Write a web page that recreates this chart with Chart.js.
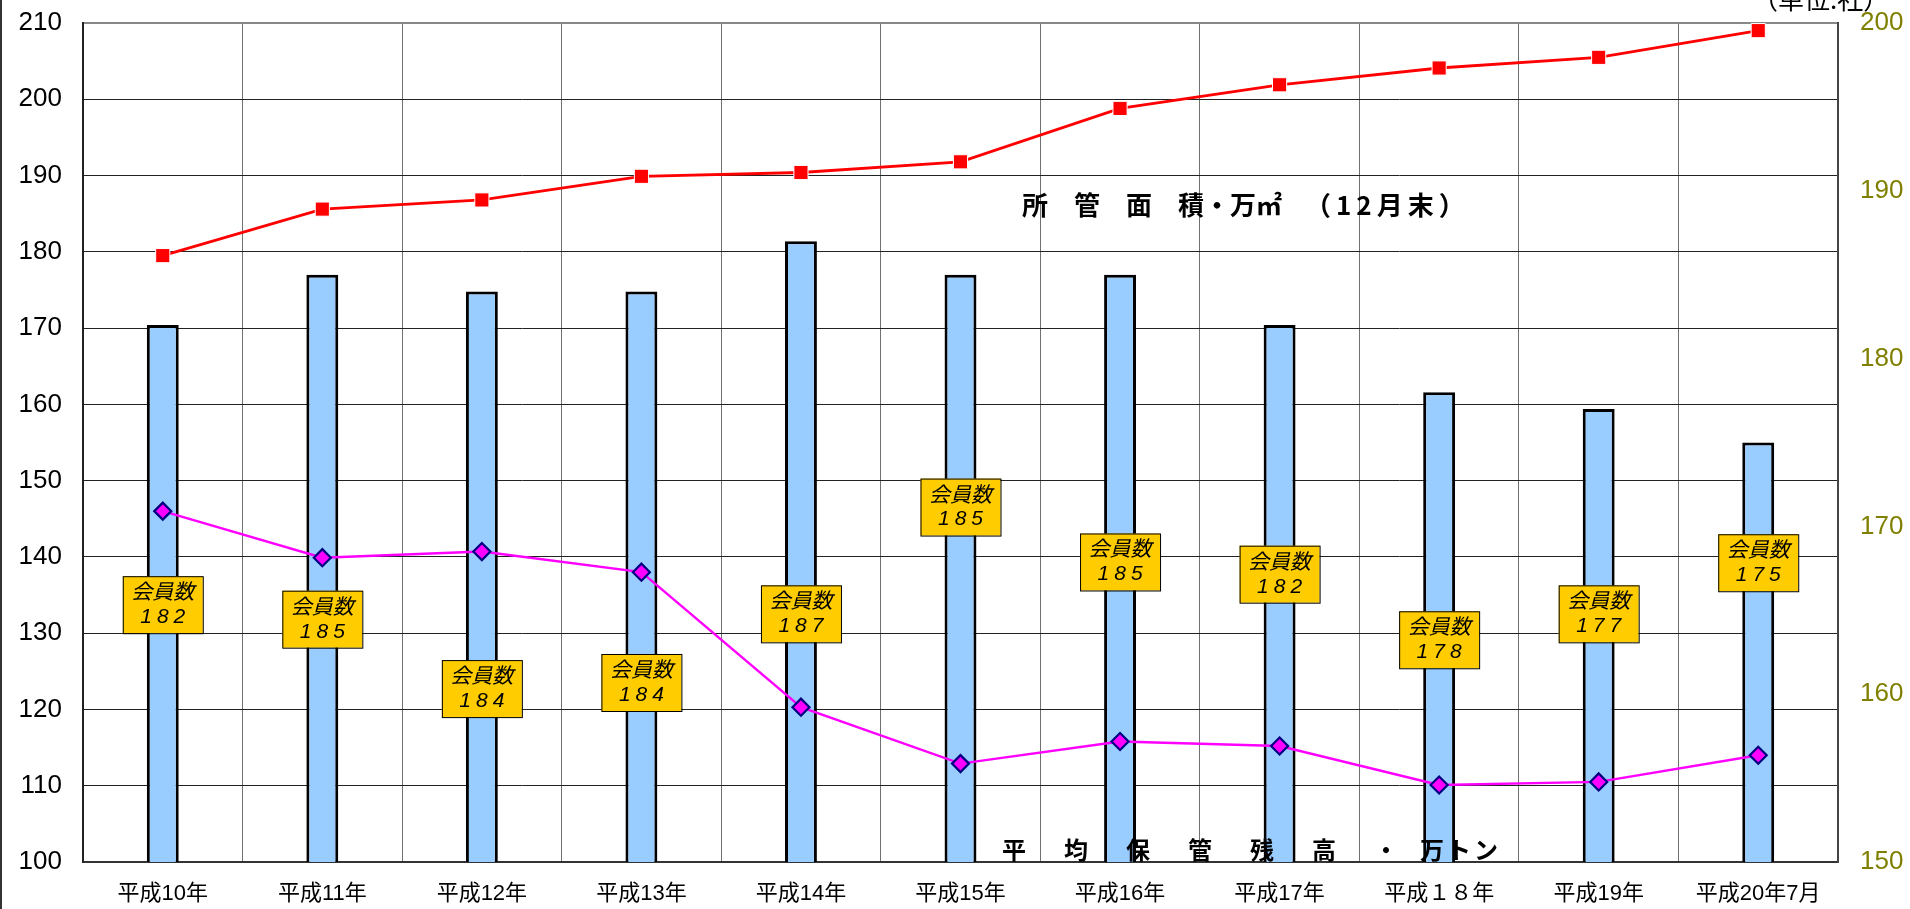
<!DOCTYPE html>
<html>
<head>
<meta charset="utf-8">
<script src="https://cdn.jsdelivr.net/npm/chart.js@4.4.1/dist/chart.umd.min.js"></script>
<style>
  body { margin: 0; background: #fff; }
  #wrap { width: 1910px; height: 909px; position: relative; }
</style>
</head>
<body>
<div id="wrap"><canvas id="myChart"></canvas></div>
<script>
// 年ごとのデータ
const years = ['平成10年', '平成11年', '平成12年', '平成13年', '平成14年', '平成15年',
               '平成16年', '平成17年', '平成１８年', '平成19年', '平成20年7月'];
// 会員数（社）- 右軸
const members = [182, 185, 184, 184, 187, 185, 185, 182, 178, 177, 175];
// 所管面積・万㎡（12月末）- 左軸
const area = [179.5, 185.6, 186.8, 189.9, 190.4, 191.8, 198.8, 201.9, 204.1, 205.5, 209.0];
// 平均保管残高・万トン - 左軸
const stock = [146.0, 139.9, 140.7, 138.0, 120.3, 112.9, 115.8, 115.2, 110.1, 110.5, 114.0];
// ラベル枠の位置（左軸の値）
const labelY = [133.8, 131.9, 122.8, 123.6, 132.6, 146.6, 139.4, 137.8, 129.2, 132.6, 139.3];

const FONT = '"Liberation Sans", "Noto Sans CJK JP", sans-serif';
const JP = '"Noto Sans CJK JP", "Liberation Sans", sans-serif';

// 注釈（会員数の枠・テキスト）
const notes = {
    id: 'notes',
    afterDatasetsDraw(chart) {
        const ctx = chart.ctx;
        const xs = chart.scales.x, ys = chart.scales.y;
        ctx.save();
        members.forEach((m, i) => {
            const x = xs.getPixelForValue(i);
            const y = ys.getPixelForValue(labelY[i]);
            ctx.fillStyle = '#FFCC00';
            ctx.fillRect(x - 40, y - 28, 80, 57);
            ctx.strokeStyle = '#000';
            ctx.lineWidth = 1;
            ctx.strokeRect(x - 40 + 0.5, y - 28 + 0.5, 80, 57);
            ctx.fillStyle = '#000';
            ctx.textAlign = 'center';
            ctx.textBaseline = 'middle';
            ctx.font = 'italic 21px ' + JP;
            ctx.letterSpacing = '0px';
            ctx.fillText('会員数', x, y - 13);
            ctx.font = 'italic 21px ' + FONT;
            ctx.letterSpacing = '5px';
            ctx.fillText(String(m), x + 2.5, y + 13);
        });
        ctx.letterSpacing = '0px';
        ctx.textAlign = 'left';
        ctx.textBaseline = 'middle';
        ctx.font = 'bold 26px ' + JP;
        ctx.fillText('所　管　面　積・万㎡', 1022, 205);
        ctx.letterSpacing = '5px';
        ctx.fillText('（12月末）', 1305, 205);
        ctx.font = 'bold 24px ' + JP;
        ctx.letterSpacing = '7px';
        ctx.fillText('平　均　保　管　残　高　・　', 1002, 850);
        ctx.letterSpacing = '3px';
        ctx.fillText('万トン', 1420, 850);
        ctx.letterSpacing = '0px';
        // 単位
        ctx.font = '26px ' + JP;
        ctx.textBaseline = 'alphabetic';
        ctx.fillText('（単位:社）', 1752, 9);
        // 左端の線
        ctx.fillStyle = '#333';
        ctx.fillRect(0, 0, 2, chart.height);
        ctx.restore();
    }
};

// 目盛りラベル分の余白を消してレイアウトを固定
function noPad(s) {
    s.paddingTop = 0; s.paddingBottom = 0;
    s.paddingLeft = 0; s.paddingRight = 0;
}

const ctx = document.getElementById('myChart').getContext('2d');
new Chart(ctx, {
    data: {
        labels: years,
        datasets: [
            {
                type: 'line',
                label: '所管面積',
                data: area,
                yAxisID: 'y',
                borderColor: '#FF0000',
                borderWidth: 2.8,
                pointStyle: 'rect',
                pointRadius: 10,
                pointBackgroundColor: '#FF0000',
                pointBorderColor: '#FFFFFF',
                pointBorderWidth: 1,
                tension: 0,
                order: 0
            },
            {
                type: 'line',
                label: '平均保管残高',
                data: stock,
                yAxisID: 'y',
                borderColor: '#FF00FF',
                borderWidth: 2.4,
                pointStyle: 'rectRot',
                pointRadius: 8.5,
                pointBackgroundColor: '#FF00FF',
                pointBorderColor: '#000080',
                pointBorderWidth: 2.2,
                tension: 0,
                order: 1
            },
            {
                type: 'bar',
                label: '会員数',
                data: members,
                yAxisID: 'y2',
                backgroundColor: '#99CCFF',
                borderColor: '#000000',
                borderWidth: 3,
                barPercentage: 0.2,
                categoryPercentage: 1.0,
                order: 2
            }
        ]
    },
    options: {
        responsive: true,
        maintainAspectRatio: false,
        animation: false,
        layout: { padding: { top: 23, left: 0, right: 0, bottom: 0 } },
        plugins: { legend: { display: false }, tooltip: { enabled: false } },
        scales: {
            x: {
                offset: true,
                grid: { offset: true, color: '#707070', lineWidth: 1, drawTicks: false },
                border: { color: '#333', width: 2 },
                ticks: { color: '#000', font: { family: FONT, size: 22 }, padding: 19, maxRotation: 0 },
                afterFit(s) { s.height = 47; noPad(s); }
            },
            y: {
                position: 'left',
                min: 100, max: 210,
                ticks: { stepSize: 10, color: '#000', font: { family: FONT, size: 26 }, padding: 21 },
                grid: {
                    color: c => c.tick && c.tick.value === 210 ? '#888' : '#222',
                    lineWidth: c => c.tick && c.tick.value === 210 ? 2 : 1,
                    drawTicks: false
                },
                border: { color: '#222', width: 2 },
                afterFit(s) { s.width = 83; noPad(s); }
            },
            y2: {
                position: 'right',
                min: 150, max: 200,
                ticks: { stepSize: 10, color: '#808000', font: { family: FONT, size: 26 }, padding: 22 },
                grid: { display: false, drawTicks: false },
                border: { color: '#444', width: 2 },
                afterFit(s) { s.width = 72; noPad(s); }
            }
        }
    },
    plugins: [notes]
});
</script>
</body>
</html>
